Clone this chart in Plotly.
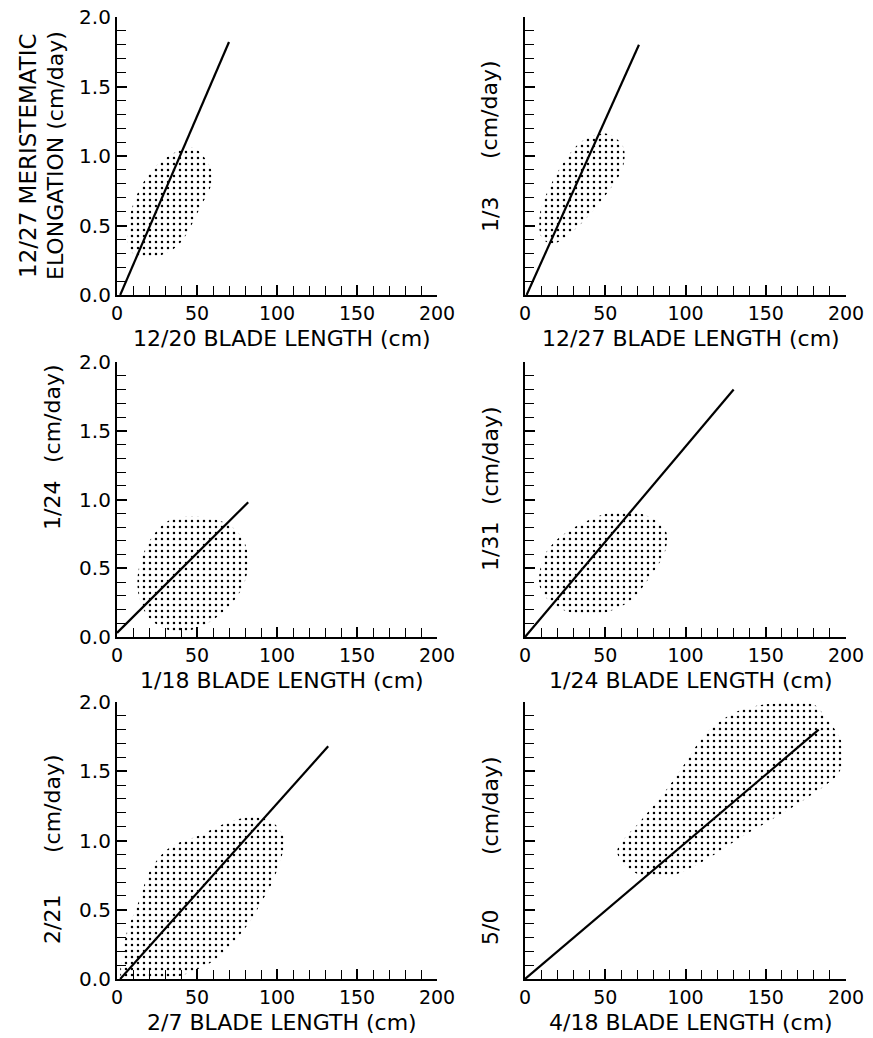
import plotly.graph_objects as go

# ---------------- data ----------------
X_TICKS = [0, 50, 100, 150, 200]
Y_TICKS = [0.0, 0.5, 1.0, 1.5, 2.0]

x_titles = ["12/20 BLADE LENGTH (cm)", "12/27 BLADE LENGTH (cm)",
            "1/18 BLADE LENGTH (cm)", "1/24 BLADE LENGTH (cm)",
            "2/7 BLADE LENGTH (cm)", "4/18 BLADE LENGTH (cm)"]
y_dates = ["12/27", "1/3", "1/24", "1/31", "2/21", "5/0"]

# regression lines (end points)
line1_x = [2, 70];  line1_y = [0.0, 1.82]
line2_x = [1, 71];  line2_y = [0.0, 1.80]
line3_x = [0, 82];  line3_y = [0.03, 0.98]
line4_x = [0, 130]; line4_y = [0.0, 1.80]
line5_x = [2, 132]; line5_y = [0.0, 1.68]
line6_x = [0, 183]; line6_y = [0.0, 1.80]

# outlines of the stippled data clouds
blob1_x = [47.5, 59, 59, 52, 37.5, 20.6, 8, 7, 11, 20.6, 31]
blob1_y = [1.06, 0.90, 0.80, 0.63, 0.35, 0.27, 0.32, 0.49, 0.68, 0.88, 0.99]

blob2_x = [51, 61, 61, 51, 30, 17.5, 10.6, 9.4, 15.6, 25, 36]
blob2_y = [1.16, 1.07, 0.92, 0.73, 0.46, 0.37, 0.41, 0.59, 0.78, 0.97, 1.11]

blob3_x = [45, 60, 72, 80, 82, 78, 68, 55, 42, 30, 20, 14, 13, 17, 24, 33]
blob3_y = [0.88, 0.86, 0.80, 0.68, 0.52, 0.35, 0.20, 0.09, 0.04, 0.06, 0.14, 0.28, 0.45, 0.62, 0.76, 0.85]

blob4_x = [61, 78, 87.5, 87.5, 78, 64, 41, 20, 9.4, 11, 17.5, 36]
blob4_y = [0.92, 0.87, 0.78, 0.63, 0.44, 0.25, 0.16, 0.22, 0.36, 0.56, 0.68, 0.83]

blob5_x = [85, 97.5, 105, 104, 97.5, 91, 81, 62.5, 44, 33, 3, 3, 6, 14, 21, 33, 52, 69]
blob5_y = [1.17, 1.13, 1.00, 0.93, 0.71, 0.57, 0.38, 0.15, 0.04, 0.01, 0.01, 0.14, 0.33, 0.57, 0.79, 0.95, 1.04, 1.13]

blob6_x = [155, 180, 186, 197, 198, 195, 176, 155, 134, 114, 92.5, 76, 64, 57.5, 59, 72, 89, 101, 114, 134]
blob6_y = [1.99, 1.98, 1.91, 1.72, 1.58, 1.48, 1.31, 1.16, 1.02, 0.87, 0.75, 0.74, 0.80, 0.91, 0.97, 1.14, 1.38, 1.58, 1.79, 1.94]

lines = [(line1_x, line1_y), (line2_x, line2_y), (line3_x, line3_y),
         (line4_x, line4_y), (line5_x, line5_y), (line6_x, line6_y)]
blobs = [(blob1_x, blob1_y), (blob2_x, blob2_y), (blob3_x, blob3_y),
         (blob4_x, blob4_y), (blob5_x, blob5_y), (blob6_x, blob6_y)]

# ---------------- layout geometry (pixels) ----------------
W, H = 873, 1038
COLS = [(117, 437), (525, 846)]
ROWS = [(17, 295), (362, 637), (702, 979)]
FONT = "DejaVu Sans"


def pxx(v):
    return v / W


def pxy(v):
    return 1 - v / H


fig = go.Figure()
layout = dict(
    width=W, height=H, margin=dict(l=0, r=0, t=0, b=0),
    paper_bgcolor="white", plot_bgcolor="white", showlegend=False,
    font=dict(family=FONT, color="black"),
)
annotations = []

# y-title positions: ((cm/day) centre, date centre) in pixels
ytitle_pos = [None, (110, 215), (414, 506), (456, 547), (804, 920), (806, 928)]

for i in range(6):
    r, c = divmod(i, 2)
    xa = "x" if i == 0 else f"x{i+1}"
    ya = "y" if i == 0 else f"y{i+1}"
    xkey = "xaxis" if i == 0 else f"xaxis{i+1}"
    ykey = "yaxis" if i == 0 else f"yaxis{i+1}"
    x0, x1 = COLS[c]
    yt, yb = ROWS[r]

    bx, by = blobs[i]
    fig.add_trace(go.Scatter(
        x=bx + [bx[0]], y=by + [by[0]], xaxis=xa, yaxis=ya,
        mode="lines", line=dict(width=0, color="black", shape="spline", smoothing=1.0),
        fill="toself", fillcolor="rgba(0,0,0,0)",
        fillpattern=dict(shape=".", fgcolor="black", bgcolor="rgba(0,0,0,0)",
                         size=6, solidity=0.13, fillmode="replace"),
        hoverinfo="skip"))
    lx, ly = lines[i]
    fig.add_trace(go.Scatter(
        x=lx, y=ly, xaxis=xa, yaxis=ya, mode="lines",
        line=dict(color="black", width=2.2), hoverinfo="skip"))

    layout[xkey] = dict(
        domain=[pxx(x0), pxx(x1)], range=[0, 200], anchor=ya,
        showline=True, linecolor="black", linewidth=2.2,
        ticks="inside", ticklen=10, tickwidth=1.6, tickcolor="black",
        tickvals=X_TICKS, ticktext=[str(v) for v in X_TICKS],
        tickfont=dict(family=FONT, size=19, color="black"),
        showgrid=False, zeroline=False, fixedrange=True, automargin=False,
        minor=dict(dtick=10, tick0=0, ticks="inside", ticklen=9, tickwidth=1.4,
                   tickcolor="black", showgrid=False),
    )
    layout[ykey] = dict(
        domain=[pxy(yb), pxy(yt)], range=[0, 2.0], anchor=xa,
        showline=True, linecolor="black", linewidth=2.2,
        ticks="inside", ticklen=10, tickwidth=1.6, tickcolor="black",
        tickvals=Y_TICKS, tickformat=".1f", showticklabels=(c == 0),
        tickfont=dict(family=FONT, size=20, color="black"),
        showgrid=False, zeroline=False, fixedrange=True, automargin=False,
        minor=dict(dtick=0.1, tick0=0, ticks="inside", ticklen=9, tickwidth=1.4,
                   tickcolor="black", showgrid=False),
    )

    # x title
    annotations.append(dict(
        text=x_titles[i], xref="paper", yref="paper",
        x=pxx((x0 + x1) / 2 + 5), y=pxy(yb + 43), xanchor="center", yanchor="middle",
        showarrow=False, font=dict(family=FONT, size=22, color="black")))

    # y titles
    if i == 0:
        annotations.append(dict(
            text=y_dates[0] + " MERISTEMATIC", xref="paper", yref="paper",
            x=pxx(28), y=pxy((yt + yb) / 2), textangle=-90,
            xanchor="center", yanchor="middle", showarrow=False,
            font=dict(family=FONT, size=23, color="black")))
        annotations.append(dict(
            text="ELONGATION (cm/day)", xref="paper", yref="paper",
            x=pxx(55), y=pxy((yt + yb) / 2), textangle=-90,
            xanchor="center", yanchor="middle", showarrow=False,
            font=dict(family=FONT, size=22, color="black")))
    else:
        tx = 52 if c == 0 else 490
        cu, cd = ytitle_pos[i]
        annotations.append(dict(
            text="(cm/day)", xref="paper", yref="paper",
            x=pxx(tx), y=pxy(cu), textangle=-90,
            xanchor="center", yanchor="middle", showarrow=False,
            font=dict(family=FONT, size=22, color="black")))
        annotations.append(dict(
            text=y_dates[i], xref="paper", yref="paper",
            x=pxx(tx), y=pxy(cd), textangle=-90,
            xanchor="center", yanchor="middle", showarrow=False,
            font=dict(family=FONT, size=22, color="black")))

layout["annotations"] = annotations
fig.update_layout(**layout)
fig.write_html(
    "out.html",
    config={"displayModeBar": False},
    post_script="document.body.style.margin='0px';document.body.style.padding='0px';"
                "document.body.style.overflow='hidden';",
)
